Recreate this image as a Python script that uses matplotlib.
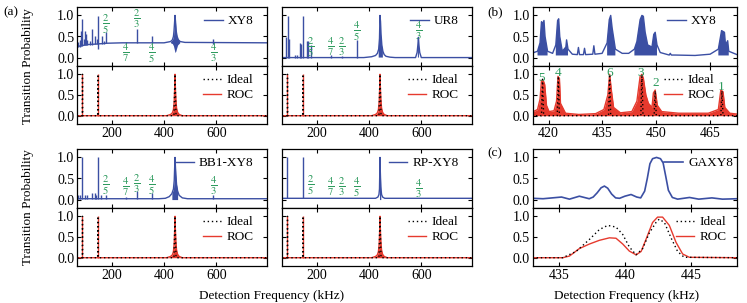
import matplotlib.pyplot as plt
import numpy as np

plt.rcParams['font.family'] = ['Liberation Serif', 'DejaVu Serif']
plt.rcParams['mathtext.fontset'] = 'stix'
plt.rcParams['font.size'] = 9

BLUE = '#3b4fa3'
RED = '#e63a2e'
GREEN = '#2e9b5e'

# ---------------- (a) wide spectra, kHz ----------------
# XY8
xy8_f = [67, 75, 90, 110, 140, 180, 240, 400, 425, 432, 436, 438, 440, 442, 444, 446, 450, 455, 462, 480, 794]
xy8_p = [0.25, 0.27, 0.29, 0.31, 0.32, 0.34, 0.35, 0.35, 0.38, 0.42, 0.5, 0.62, 0.8, 1.0, 0.85, 0.65, 0.5, 0.42, 0.38, 0.36, 0.35]
xy8_band_f = [425, 432, 436, 439, 442, 445, 448, 452, 460]
xy8_band_lo = [0.35, 0.33, 0.28, 0.2, 0.12, 0.15, 0.22, 0.3, 0.35]
xy8_band_hi = [0.38, 0.42, 0.5, 0.7, 1.0, 0.75, 0.55, 0.45, 0.38]
xy8_spk_f = [72, 78, 83, 88, 92, 96, 102, 106, 115, 124, 136, 142, 147, 162, 170, 177, 253, 295, 354, 589]
xy8_spk_h = [0.38, 0.42, 0.64, 0.92, 0.45, 0.64, 0.56, 0.42, 0.4, 0.68, 0.5, 0.45, 0.98, 0.5, 0.4, 0.6, 0.38, 0.68, 0.5, 0.45]
xy8_spk_lo = [0.25, 0.26, 0.27, 0.28, 0.29, 0.29, 0.3, 0.3, 0.31, 0.31, 0.32, 0.32, 0.21, 0.33, 0.33, 0.34, 0.35, 0.35, 0.35, 0.33]
frac_txt = ['2/5', '4/7', '2/3', '4/5', '4/3']
frac_f = [177, 253, 295, 354, 589]
xy8_frac_y = [0.8, 0.11, 0.92, 0.11, 0.11]

# UR8
ur8_f = [67, 380, 410, 425, 432, 437, 440, 442, 444, 446, 449, 453, 458, 465, 480, 500, 578, 584, 587, 589, 591, 594, 600, 794]
ur8_p = [0.0, 0.0, 0.02, 0.05, 0.1, 0.2, 0.45, 1.0, 0.85, 0.55, 0.3, 0.15, 0.07, 0.03, 0.01, 0.0, 0.0, 0.12, 0.3, 0.48, 0.3, 0.12, 0.0, 0.0]
ur8_spk_f = [83, 89, 94, 117, 124, 134, 139, 147, 162, 168, 177, 253, 295, 354]
ur8_spk_h = [0.48, 0.98, 0.45, 0.05, 0.07, 0.35, 0.33, 0.98, 0.4, 0.4, 0.29, 0.05, 0.04, 0.42]
ur8_frac_y = [0.25, 0.25, 0.25, 0.62, 0.64]

# BB1-XY8
bb1_f = [67, 380, 405, 420, 430, 436, 439, 442, 445, 448, 452, 458, 470, 490, 794]
bb1_p = [0.02, 0.02, 0.03, 0.07, 0.14, 0.25, 0.45, 1.0, 0.6, 0.35, 0.2, 0.1, 0.04, 0.02, 0.02]
bb1_spk_f = [70, 79, 88, 98, 104, 126, 136, 140, 147, 158, 177, 253, 295, 354, 589]
bb1_spk_h = [0.1, 0.12, 1.0, 0.12, 0.12, 0.16, 0.16, 0.1, 1.0, 0.1, 0.12, 0.06, 0.2, 0.16, 0.12]
bb1_frac_y = [0.35, 0.3, 0.38, 0.33, 0.33]

# RP-XY8
rp_f = [67, 425, 434, 438, 440, 441, 442, 443, 445, 448, 452, 460, 794]
rp_p = [0.03, 0.03, 0.06, 0.12, 0.25, 0.6, 1.0, 0.7, 0.3, 0.12, 0.06, 0.03, 0.03]
rp_spk_f = [88, 147]
rp_spk_h = [1.0, 1.0]
rp_frac_y = [0.33, 0.3, 0.3, 0.3, 0.27]

# ROC and ideal (a)
roc_a_f = [67, 410, 425, 432, 436, 439, 441, 442, 443, 445, 448, 452, 458, 470, 794]
roc_a_p = [0.0, 0.0, 0.03, 0.07, 0.15, 0.35, 0.7, 1.0, 0.75, 0.4, 0.18, 0.08, 0.03, 0.0, 0.0]
roc_a_spk_f = [88, 147]
roc_a_spk_h = [1.0, 1.0]
ideal_a_f = [67, 87, 88, 89, 146, 147, 148, 438, 442, 446, 794]
ideal_a_p = [0, 0, 1, 0, 0, 1, 0, 0, 1, 0, 0]

# ---------------- (b) zoom 415-472 kHz ----------------
b_xy8_f = [415.3, 415.9, 416.9, 417.6, 418.0, 418.3, 418.7, 419.0, 419.7, 421.1, 422.0, 422.5, 422.8, 423.1, 423.8,
           424.8, 425.0, 425.4, 426.6, 428.0, 428.3, 428.6, 429.7, 430.0, 430.3, 432.3, 432.6, 432.9, 434.9, 436.3,
           436.9, 437.3, 437.7, 438.6, 440.5, 442.3, 443.9, 444.6, 445.5, 446.0, 446.4, 446.9, 447.6, 448.8, 449.3,
           449.7, 450.2, 451.1, 453.6, 453.9, 454.2, 455.3, 460.8, 465.0, 467.3, 468.2, 469.0, 469.3, 469.9, 470.2, 472.5]
b_xy8_p = [0.2, 0.12, 0.15, 0.35, 0.85, 0.8, 0.88, 0.5, 0.15, 0.1, 0.3, 0.88, 0.92, 0.5, 0.15,
           0.25, 0.42, 0.2, 0.08, 0.07, 0.24, 0.07, 0.07, 0.22, 0.07, 0.08, 0.28, 0.08, 0.1, 0.35,
           0.9, 1.0, 0.7, 0.2, 0.1, 0.1, 0.2, 0.38, 0.9, 1.0, 0.98, 0.6, 0.3, 0.25, 0.55,
           0.6, 0.3, 0.12, 0.06, 0.1, 0.06, 0.06, 0.05, 0.08, 0.2, 0.64, 0.6, 0.3, 0.4, 0.15, 0.07]
b_roc_f = [415.3, 416.9, 417.6, 418.0, 418.5, 418.9, 419.4, 420.1, 421.5, 422.2, 422.6, 423.0, 423.3, 424.7, 428.4,
           433.1, 435.4, 436.5, 437.0, 437.5, 438.1, 440.0, 443.2, 444.6, 445.5, 446.0, 446.4, 447.1, 447.8, 448.8,
           449.2, 449.7, 450.3, 451.5, 456.2, 464.5, 467.3, 468.0, 468.6, 469.1, 470.5, 472.5]
b_roc_p = [0.08, 0.15, 0.4, 0.85, 0.85, 0.75, 0.25, 0.1, 0.12, 0.35, 0.95, 0.9, 0.3, 0.06, 0.03,
           0.05, 0.15, 0.5, 1.0, 0.6, 0.2, 0.07, 0.1, 0.35, 0.95, 1.0, 0.9, 0.5, 0.3, 0.2,
           0.55, 0.62, 0.25, 0.1, 0.06, 0.06, 0.15, 0.62, 0.58, 0.2, 0.06, 0.04]
b_ideal_f = [415.3, 418.0, 418.3, 418.6, 422.4, 422.7, 423.0, 436.7, 437.0, 437.3, 445.7, 446.0, 446.3,
             449.4, 449.7, 450.0, 468.0, 468.3, 468.6, 472.5]
b_ideal_p = [0, 0, 0.88, 0, 0, 0.95, 0, 0, 1.0, 0, 0, 1.0, 0, 0, 0.6, 0, 0, 0.6, 0, 0]
b_lab = ['5', '4', '6', '3', '2', '1']
b_lab_f = [418.1, 422.7, 436.9, 445.6, 449.8, 468.2]
b_lab_y = [0.92, 1.02, 1.04, 1.04, 0.8, 0.7]

# ---------------- (c) zoom 433-448.5 kHz ----------------
c_ga_f = [433.0, 433.8, 434.5, 435.2, 435.8, 436.55, 437.3, 437.6, 437.9, 438.2, 438.45, 438.7, 439.0, 439.3,
          439.6, 440.0, 440.47, 440.9, 441.2, 441.5, 441.7, 441.9, 442.1, 442.4, 442.7, 442.9, 443.1, 443.3,
          443.6, 444.0, 444.9, 445.6, 446.6, 447.4, 448.5]
c_ga_p = [0.03, 0.02, 0.04, 0.06, 0.01, 0.08, 0.02, 0.06, 0.16, 0.28, 0.32, 0.27, 0.13, 0.04,
          0.03, 0.08, 0.12, 0.06, 0.04, 0.2, 0.5, 0.85, 0.97, 1.0, 0.97, 0.87, 0.55, 0.22,
          0.05, 0.01, 0.05, 0.01, 0.04, 0.01, 0.02]
c_roc_f = [433.0, 435.29, 435.8, 436.55, 437.31, 438.07, 438.83, 439.33, 439.84, 440.34, 440.85, 441.23,
           441.6, 442.1, 442.48, 442.86, 443.37, 443.88, 444.38, 444.89, 448.5]
c_roc_p = [0.0, 0.0, 0.04, 0.22, 0.33, 0.42, 0.48, 0.47, 0.33, 0.16, 0.07, 0.15,
           0.44, 0.85, 0.98, 0.98, 0.78, 0.37, 0.09, 0.01, 0.0]
c_ideal_f = [433.0, 435.29, 436.3, 437.31, 438.07, 438.7, 439.33, 439.84, 440.34, 440.85, 441.35,
             441.86, 442.36, 442.6, 443.0, 443.5, 444.0, 444.5, 448.5]
c_ideal_p = [0.0, 0.0, 0.15, 0.44, 0.68, 0.78, 0.74, 0.56, 0.26, 0.07, 0.22,
             0.6, 0.85, 0.93, 0.85, 0.48, 0.15, 0.01, 0.0]

fig = plt.figure(figsize=(7.47, 3.03), dpi=100)
W, H = 747, 303


def box(x0, y0, x1, y1):
    return [x0 / W, 1 - y1 / H, (x1 - x0) / W, (y1 - y0) / H]


def style(ax, xlim, xticks, xlab=False, ylab=True):
    ax.set_xlim(*xlim)
    ax.set_ylim(-0.2, 1.2)
    ax.set_xticks(xticks)
    ax.set_yticks([0, 0.5, 1.0])
    ax.set_yticklabels(['0.0', '0.5', '1.0'])
    ax.tick_params(direction='in', top=True, right=True, length=3, width=0.8, labelsize=10, pad=2)
    if not xlab:
        ax.tick_params(labelbottom=False)
    if not ylab:
        ax.tick_params(labelleft=False)
    for s in ax.spines.values():
        s.set_linewidth(0.9)


def leg(ax, handles, labels, x=0.93):
    ax.legend(handles, labels, loc='upper right', bbox_to_anchor=(x, 0.86), frameon=False,
              fontsize=9.5, handlelength=1.4, borderaxespad=0, borderpad=0,
              handletextpad=0.4, labelspacing=0.2)


def blue_panel(ax, f, p, spk_f, spk_h, spk_lo=None, name='', band=None, frac_y=None):
    ln, = ax.plot(f, p, color=BLUE, lw=1.0)
    if band is not None:
        ax.fill_between(band[0], band[1], band[2], color=BLUE, lw=0)
    else:
        ax.fill_between(f, 0, p, where=np.array(p) > 0.12, color=BLUE, lw=0)
    if spk_lo is None:
        spk_lo = np.interp(spk_f, f, p)
    ax.vlines(spk_f, spk_lo, spk_h, color=BLUE, lw=1.0)
    for t, x, y in zip(frac_txt, frac_f, frac_y):
        a, b = t.split('/')
        ax.text(x, y, r'$\frac{%s}{%s}$' % (a, b), color=GREEN, fontsize=11,
                ha='center', va='center')
    leg(ax, [ln], [name])


def red_panel(ax, f, p, ideal_f, ideal_p, spk_f=None, spk_h=None, fill=True, x=0.93):
    l_roc, = ax.plot(f, p, color=RED, lw=1.0)
    if fill:
        ax.fill_between(f, 0, p, color=RED, lw=0)
    if spk_f is not None:
        ax.vlines(spk_f, 0, spk_h, color=RED, lw=1.0)
    l_id, = ax.plot(ideal_f, ideal_p, color='black', lw=1.0, ls=(0, (1, 2)), zorder=3)
    leg(ax, [l_id, l_roc], ['Ideal', 'ROC'], x)


cols = [(77, 267), (282, 472)]
rows = [((7, 66), (66, 124)), ((149, 208), (208, 266))]
xa = (67, 794)
xt = [200, 400, 600]

blues = [
    (xy8_f, xy8_p, xy8_spk_f, xy8_spk_h, xy8_spk_lo, 'XY8', (xy8_band_f, xy8_band_lo, xy8_band_hi), xy8_frac_y),
    (ur8_f, ur8_p, ur8_spk_f, ur8_spk_h, None, 'UR8', None, ur8_frac_y),
    (bb1_f, bb1_p, bb1_spk_f, bb1_spk_h, None, 'BB1-XY8', None, bb1_frac_y),
    (rp_f, rp_p, rp_spk_f, rp_spk_h, None, 'RP-XY8', None, rp_frac_y),
]

k = 0
for r in range(2):
    for c in range(2):
        (t0, t1), (b0, b1) = rows[r]
        x0, x1 = cols[c]
        ax_t = fig.add_axes(box(x0, t0, x1, t1))
        ax_b = fig.add_axes(box(x0, b0, x1, b1))
        d = blues[k]
        blue_panel(ax_t, d[0], d[1], d[2], d[3], spk_lo=d[4], name=d[5], band=d[6], frac_y=d[7])
        red_panel(ax_b, roc_a_f, roc_a_p, ideal_a_f, ideal_a_p, roc_a_spk_f, roc_a_spk_h)
        style(ax_t, xa, xt, ylab=(c == 0))
        style(ax_b, xa, xt, xlab=True, ylab=(c == 0))
        k += 1

# (b)
ax = fig.add_axes(box(532.5, 7, 737, 66))
ln, = ax.plot(b_xy8_f, b_xy8_p, color=BLUE, lw=1.0)
ax.fill_between(b_xy8_f, 0.05, b_xy8_p, where=np.array(b_xy8_p) > 0.12, color=BLUE, lw=0)
leg(ax, [ln], ['XY8'], 0.9)
style(ax, (415.5, 472.5), [420, 435, 450, 465])
ax = fig.add_axes(box(532.5, 66, 737, 124))
red_panel(ax, b_roc_f, b_roc_p, b_ideal_f, b_ideal_p, x=0.89)
for t, x, y in zip(b_lab, b_lab_f, b_lab_y):
    ax.text(x, y, t, color=GREEN, fontsize=9.5, ha='center', va='center')
style(ax, (415.5, 472.5), [420, 435, 450, 465], xlab=True)

# (c)
ax = fig.add_axes(box(532.5, 149, 737, 208))
ln, = ax.plot(c_ga_f, c_ga_p, color=BLUE, lw=1.2)
leg(ax, [ln], ['GAXY8'], 0.98)
style(ax, (433, 448.5), [435, 440, 445])
ax = fig.add_axes(box(532.5, 208, 737, 266))
red_panel(ax, c_roc_f, c_roc_p, c_ideal_f, c_ideal_p, fill=False, x=0.95)
style(ax, (433, 448.5), [435, 440, 445], xlab=True)

fig.text(28 / W, 1 - 66 / H, 'Transition Probability', rotation=90, ha='center', va='center', fontsize=9.5)
fig.text(28 / W, 1 - 207 / H, 'Transition Probability', rotation=90, ha='center', va='center', fontsize=9.5)
fig.text(272 / W, 1 - 296 / H, 'Detection Frequency (kHz)', ha='center', va='center', fontsize=9.5)
fig.text(627 / W, 1 - 296 / H, 'Detection Frequency (kHz)', ha='center', va='center', fontsize=9.5)
fig.text(3 / W, 1 - 12 / H, '(a)', ha='left', va='center', fontsize=9.5)
fig.text(487 / W, 1 - 12 / H, '(b)', ha='left', va='center', fontsize=9.5)
fig.text(487 / W, 1 - 153 / H, '(c)', ha='left', va='center', fontsize=9.5)

fig.savefig('out.png', dpi=100)
